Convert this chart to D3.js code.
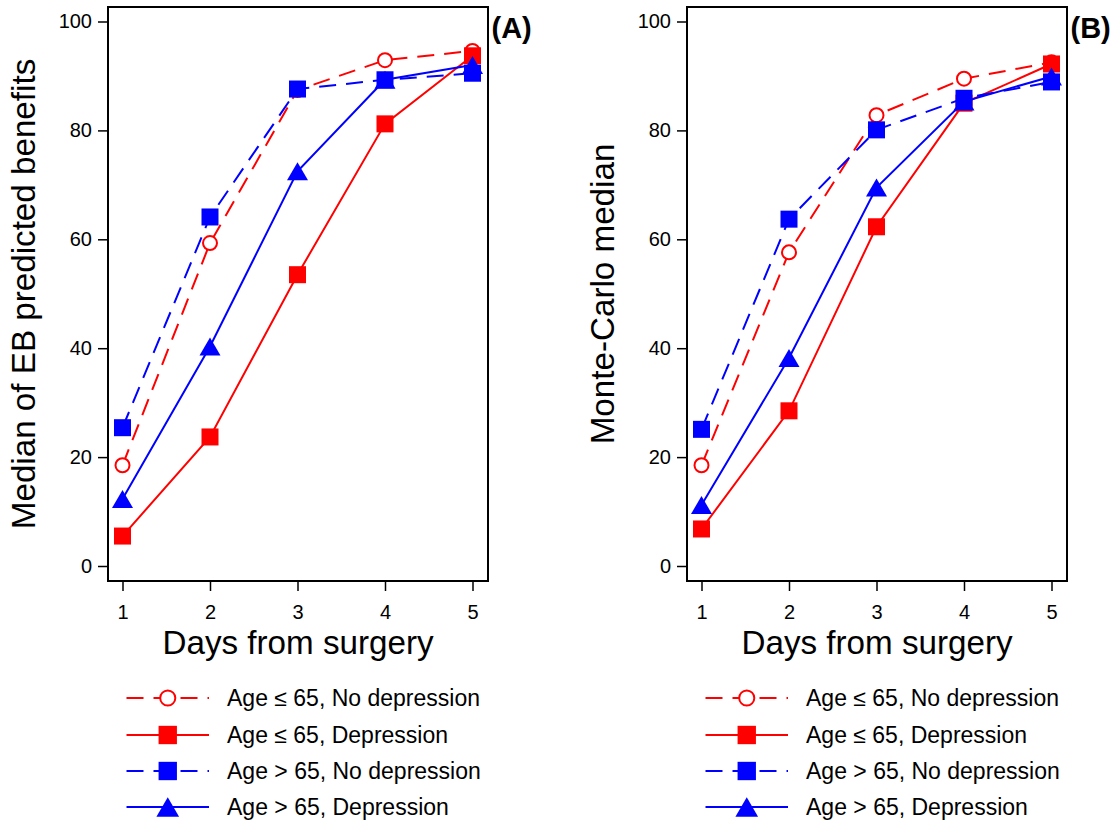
<!DOCTYPE html>
<html>
<head>
<meta charset="utf-8">
<script src="https://cdn.jsdelivr.net/npm/d3@7"></script>
<style>
  html, body { margin: 0; padding: 0; background: #fff; }
  svg { display: block; font-family: "Liberation Sans", Arial, sans-serif; }
</style>
</head>
<body>
<svg id="chart" width="1115" height="824"></svg>
<script>
// Days after surgery
const days = [1, 2, 3, 4, 5];
const yTicks = [0, 20, 40, 60, 80, 100];

// Panel A: median of EB predicted benefits
const ebYoungNoDep = [18.5, 59.3, 87.4, 92.9, 94.6];
const ebYoungDep   = [5.5, 23.7, 53.5, 81.2, 93.7];
const ebOldNoDep   = [25.4, 64.1, 87.6, 89.3, 90.5];
const ebOldDep     = [12.3, 40.3, 72.5, 89.3, 92.0];

// Panel B: Monte-Carlo median
const mcYoungNoDep = [18.5, 57.6, 82.8, 89.5, 92.5];
const mcYoungDep   = [6.8, 28.5, 62.3, 85.0, 92.2];
const mcOldNoDep   = [25.1, 63.7, 80.1, 85.9, 88.9];
const mcOldDep     = [11.2, 38.2, 69.5, 85.3, 89.9];

const seriesLabels = [
  "Age \u2264 65, No depression",
  "Age \u2264 65, Depression",
  "Age > 65, No depression",
  "Age > 65, Depression"
];
const seriesColors = ["#ff0000", "#ff0000", "#0000ff", "#0000ff"];
const seriesDashed = [true, false, true, false];
const seriesMarkers = ["circle", "square", "square", "triangle"];

const svg = d3.select("#chart");
const DASH = "17,10";

function drawMarker(g, type, x, y, color, scale = 1) {
  if (type === "circle") {
    g.append("circle").attr("cx", x).attr("cy", y).attr("r", 7 * scale)
      .attr("fill", "#fff").attr("stroke", color).attr("stroke-width", 2);
  } else if (type === "square") {
    const s = 17 * scale;
    g.append("rect").attr("x", x - s / 2).attr("y", y - s / 2)
      .attr("width", s).attr("height", s).attr("fill", color);
  } else {
    const w = 21 * scale, h = 18 * scale;
    g.append("path")
      .attr("d", `M${x},${y - h / 2}L${x + w / 2},${y + h / 2}L${x - w / 2},${y + h / 2}Z`)
      .attr("fill", color);
  }
}

function panel(left, yTitle, tag, seriesData) {
  const box = { x0: left, x1: left + 380, y0: 7, y1: 581 };
  const x = d3.scaleLinear().domain([1, 5]).range([box.x0 + 14.5, box.x1 - 15.5]);
  const y = d3.scaleLinear().domain([0, 100]).range([566, 21.5]);
  const g = svg.append("g");

  // frame
  g.append("rect").attr("x", box.x0).attr("y", box.y0)
    .attr("width", box.x1 - box.x0).attr("height", box.y1 - box.y0)
    .attr("fill", "none").attr("stroke", "#000").attr("stroke-width", 2);

  // y axis
  const ya = g.append("g").attr("transform", `translate(${box.x0},0)`)
    .call(d3.axisLeft(y).tickValues(yTicks).tickSize(10).tickPadding(6).tickFormat(d3.format("d")));
  ya.select(".domain").remove();
  ya.selectAll(".tick line").attr("stroke", "#000").attr("stroke-width", 1.5);
  ya.selectAll(".tick text").attr("font-size", 20).attr("fill", "#000")
    .attr("font-family", "Liberation Sans, Arial, sans-serif");

  // x axis
  const xa = g.append("g").attr("transform", `translate(0,${box.y1})`)
    .call(d3.axisBottom(x).tickValues(days).tickSize(10).tickPadding(14).tickFormat(d3.format("d")));
  xa.select(".domain").remove();
  xa.selectAll(".tick line").attr("stroke", "#000").attr("stroke-width", 1.5);
  xa.selectAll(".tick text").attr("font-size", 20).attr("fill", "#000")
    .attr("font-family", "Liberation Sans, Arial, sans-serif");

  // axis titles
  g.append("text").attr("x", (box.x0 + box.x1) / 2).attr("y", 654)
    .attr("text-anchor", "middle").attr("font-size", 33.2).text("Days from surgery");
  g.append("text")
    .attr("transform", `translate(${box.x0 - 73},${(box.y0 + box.y1) / 2}) rotate(-90)`)
    .attr("text-anchor", "middle").attr("font-size", 33.2).text(yTitle);

  // panel tag
  g.append("text").attr("x", box.x1 + 3.5).attr("y", 37.5)
    .attr("font-size", 29).attr("font-weight", "bold").text(tag);

  // series
  const line = d3.line().x((d, i) => x(days[i])).y(d => y(d));
  seriesData.forEach((vals, k) => {
    const sg = g.append("g");
    sg.append("path").attr("d", line(vals)).attr("fill", "none")
      .attr("stroke", seriesColors[k]).attr("stroke-width", 2)
      .attr("stroke-dasharray", seriesDashed[k] ? DASH : null);
    vals.forEach((v, i) => drawMarker(sg, seriesMarkers[k], x(days[i]), y(v), seriesColors[k]));
  });

  // legend
  const lx0 = box.x0 + 18.5, lx1 = box.x0 + 101, tx = box.x0 + 119;
  const rowY = [698, 735, 771, 807];
  seriesLabels.forEach((lab, k) => {
    const lg = g.append("g");
    lg.append("line").attr("x1", lx0).attr("x2", lx1).attr("y1", rowY[k]).attr("y2", rowY[k])
      .attr("stroke", seriesColors[k]).attr("stroke-width", 2)
      .attr("stroke-dasharray", seriesDashed[k] ? DASH : null);
    drawMarker(lg, seriesMarkers[k], (lx0 + lx1) / 2, rowY[k], seriesColors[k], 1.08);
    lg.append("text").attr("x", tx).attr("y", rowY[k] + 8)
      .attr("font-size", 23).attr("fill", "#000").text(lab);
  });
}

panel(108, "Median of EB predicted benefits", "(A)",
  [ebYoungNoDep, ebYoungDep, ebOldNoDep, ebOldDep]);
panel(687, "Monte-Carlo median", "(B)",
  [mcYoungNoDep, mcYoungDep, mcOldNoDep, mcOldDep]);
</script>
</body>
</html>
